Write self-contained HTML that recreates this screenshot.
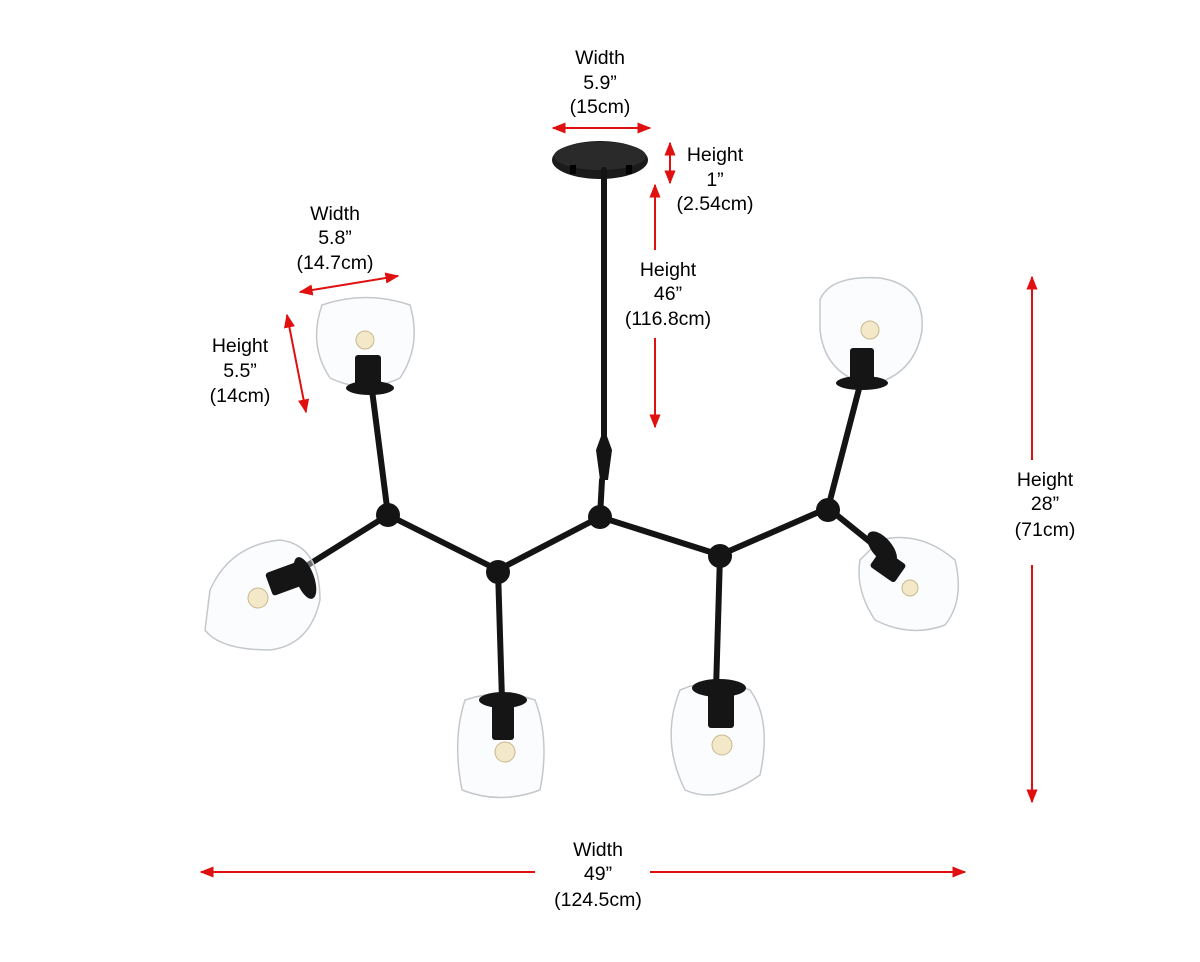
<!DOCTYPE html>
<html><head><meta charset="utf-8"><style>
html,body{margin:0;padding:0;background:#fff;}
svg{display:block}
text{font-family:"Liberation Sans",Arial,sans-serif;font-size:19.5px;fill:#000;text-anchor:middle}
</style></head><body>
<svg width="1200" height="962" viewBox="0 0 1200 962" xmlns="http://www.w3.org/2000/svg">
<defs>
<marker id="a" viewBox="0 0 10 10" refX="9" refY="5" markerWidth="7" markerHeight="7" orient="auto-start-reverse"><path d="M0,1 L10,5 L0,9 z" fill="#e01010"/></marker>
</defs>
<g stroke="#e01010" stroke-width="2" fill="none" marker-start="url(#a)" marker-end="url(#a)">
<line x1="553" y1="128" x2="650" y2="128"/>
<line x1="670" y1="143" x2="670" y2="183"/>
<line x1="300" y1="292" x2="398" y2="276"/>
<line x1="287" y1="315" x2="306" y2="412"/>
<line x1="1032" y1="277" x2="1032" y2="802"/>
</g>
<g stroke="#e01010" stroke-width="2" fill="none">
<line x1="655" y1="185" x2="655" y2="250" marker-start="url(#a)"/>
<line x1="655" y1="338" x2="655" y2="427" marker-end="url(#a)"/>
<line x1="201" y1="872" x2="535" y2="872" marker-start="url(#a)"/>
<line x1="650" y1="872" x2="965" y2="872" marker-end="url(#a)"/>
</g>
<rect x="1010" y="460" width="50" height="105" fill="#fff"/>
<text x="600" y="64">Width</text><text x="600" y="89">5.9”</text><text x="600" y="113">(15cm)</text>
<text x="715" y="161">Height</text><text x="715" y="186">1”</text><text x="715" y="210">(2.54cm)</text>
<text x="668" y="276">Height</text><text x="668" y="300">46”</text><text x="668" y="325">(116.8cm)</text>
<text x="335" y="220">Width</text><text x="335" y="244">5.8”</text><text x="335" y="269">(14.7cm)</text>
<text x="240" y="352">Height</text><text x="240" y="377">5.5”</text><text x="240" y="402">(14cm)</text>
<text x="1045" y="486">Height</text><text x="1045" y="510">28”</text><text x="1045" y="536">(71cm)</text>
<text x="598" y="856">Width</text><text x="598" y="880">49”</text><text x="598" y="906">(124.5cm)</text>

<ellipse cx="600" cy="160" rx="48" ry="19" fill="#1a1a1a"/>
<ellipse cx="600" cy="156" rx="46" ry="14" fill="#2a2a2a"/>
<rect x="570" y="165" width="6" height="9" fill="#000"/><rect x="626" y="165" width="6" height="9" fill="#000"/>
<g stroke="#141414" stroke-width="6" stroke-linecap="round" fill="none">
<line x1="604" y1="170" x2="604" y2="440"/>
<line x1="602" y1="480" x2="600" y2="517"/>
<line x1="600" y1="517" x2="498" y2="570"/>
<line x1="600" y1="517" x2="720" y2="555"/>
<line x1="498" y1="570" x2="388" y2="515"/>
<line x1="388" y1="515" x2="372" y2="390"/>
<line x1="388" y1="515" x2="300" y2="570"/>
<line x1="498" y1="570" x2="502" y2="700"/>
<line x1="720" y1="555" x2="716" y2="690"/>
<line x1="720" y1="555" x2="828" y2="508"/>
<line x1="828" y1="508" x2="860" y2="385"/>
<line x1="828" y1="508" x2="890" y2="558"/>
</g>
<path d="M604,428 L612,450 L608,480 L600,480 L596,450 z" fill="#141414"/>
<g fill="#141414">
<circle cx="600" cy="517" r="12"/><circle cx="498" cy="572" r="12"/><circle cx="720" cy="556" r="12"/>
<circle cx="388" cy="515" r="12"/><circle cx="828" cy="510" r="12"/>
</g>
<g fill="rgba(245,247,250,0.4)" stroke="#c4c8cc" stroke-width="1.5">
<path d="M322,305 Q365,290 410,305 Q422,345 400,378 Q365,395 330,378 Q308,345 322,305 z"/>
<path d="M820,300 Q830,275 880,278 Q925,285 922,330 Q915,375 870,385 Q825,375 820,330 z"/>
<path d="M210,590 Q230,545 280,540 Q320,545 320,600 Q310,645 270,650 Q220,650 205,630 z"/>
<path d="M880,540 Q920,530 955,560 Q965,600 945,625 Q910,638 875,620 Q855,590 860,560 z"/>
<path d="M465,700 Q500,688 535,700 Q550,740 540,790 Q500,805 462,790 Q452,740 465,700 z"/>
<path d="M680,690 Q715,675 750,690 Q772,720 760,775 Q718,805 685,790 Q660,740 680,690 z"/>
</g>
<g fill="#f3e8c8" stroke="#c8b890"><circle cx="365" cy="340" r="9"/><circle cx="870" cy="330" r="9"/><circle cx="258" cy="598" r="10"/><circle cx="910" cy="588" r="8"/><circle cx="505" cy="752" r="10"/><circle cx="722" cy="745" r="10"/></g>
<g fill="#151515">
<ellipse cx="370" cy="388" rx="24" ry="7"/><rect x="355" y="355" width="26" height="32" rx="3"/>
<ellipse cx="862" cy="383" rx="26" ry="7"/><rect x="850" y="348" width="24" height="34" rx="3"/>
<ellipse cx="305" cy="578" rx="9" ry="22" transform="rotate(-20 305 578)"/><rect x="268" y="567" width="34" height="24" rx="3" transform="rotate(-20 285 579)"/>
<ellipse cx="882" cy="548" rx="10" ry="20" transform="rotate(-40 882 548)"/><rect x="882" y="548" width="30" height="22" rx="3" transform="rotate(35 882 548)"/>
<ellipse cx="503" cy="700" rx="24" ry="8"/><rect x="492" y="700" width="22" height="40" rx="3"/>
<ellipse cx="719" cy="688" rx="27" ry="9"/><rect x="708" y="690" width="26" height="38" rx="3"/>
</g>
</svg>
</body></html>
